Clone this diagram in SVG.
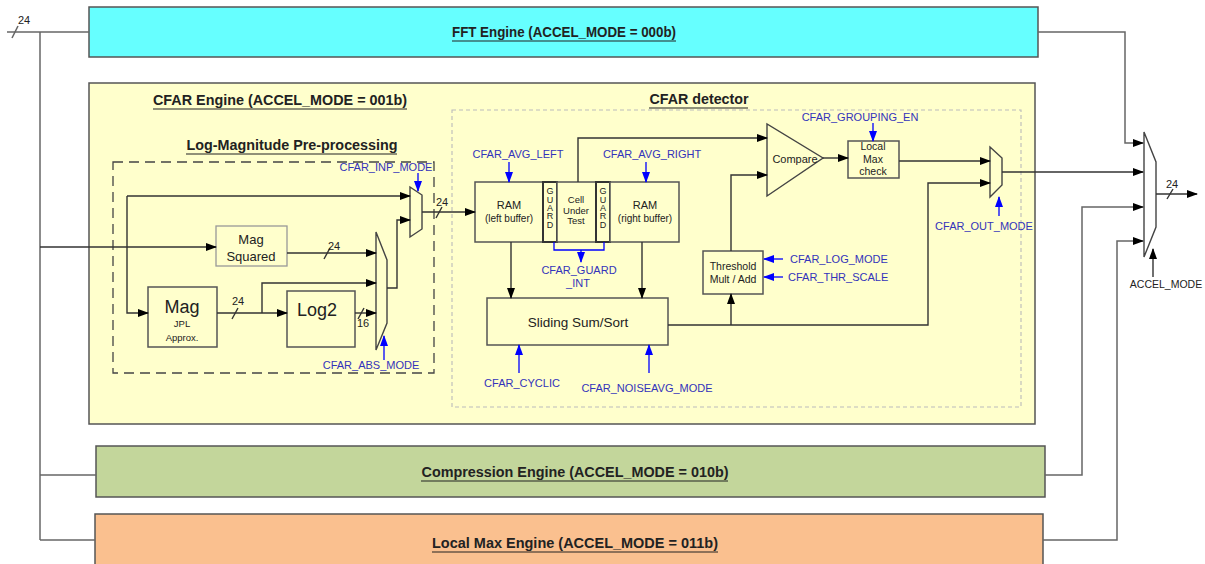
<svg xmlns="http://www.w3.org/2000/svg" width="1205" height="564" viewBox="0 0 1205 564">
<defs>
<marker id="ak" markerUnits="userSpaceOnUse" markerWidth="11" markerHeight="8" refX="10" refY="4" orient="auto"><path d="M0,0 L11,4 L0,8 z" fill="#000"/></marker>
<marker id="ab" markerUnits="userSpaceOnUse" markerWidth="11" markerHeight="8" refX="10" refY="4" orient="auto"><path d="M0,0 L11,4 L0,8 z" fill="#0000ff"/></marker>
<style>
text{font-family:"Liberation Sans",Arial,sans-serif;fill:#222}
.eng{font-size:14px;font-weight:bold;text-anchor:middle}
.ul{stroke:#222;stroke-width:1.2}
.lbl{font-size:11px;fill:#3333bb}
.mid{text-anchor:middle}
.box{stroke:#555;stroke-width:1.5}
.blk{fill:none;stroke:#333;stroke-width:1.4}
.out{fill:none;stroke:#666;stroke-width:1.5}
.blu{fill:none;stroke:#0000ff;stroke-width:1.3}
.arr{marker-end:url(#ak)}
.barr{marker-end:url(#ab)}
.mux{fill:none;stroke:#444;stroke-width:1.4}
.sm{font-size:10.5px}
</style>
</defs>
<rect width="1205" height="564" fill="#fff"/>

<g id="fft"><rect class="box" x="89" y="7" width="949" height="50" fill="#66ffff"/><text class="eng" x="564" y="37" font-size="13" textLength="224" lengthAdjust="spacingAndGlyphs">FFT Engine (ACCEL_MODE = 000b)</text><line class="ul" x1="452" y1="41" x2="676" y2="41"/></g>

<g id="cfar-engine"><rect class="box" x="89" y="83" width="946" height="341" fill="#ffffcc"/><text class="eng" x="280" y="105" textLength="254" lengthAdjust="spacingAndGlyphs">CFAR Engine (ACCEL_MODE = 001b)</text><line class="ul" x1="153" y1="109" x2="407" y2="109"/></g>

<g id="logmag"><rect x="113" y="162" width="321" height="211" fill="none" stroke="#444" stroke-width="1.3" stroke-dasharray="10,6"/><text class="eng" x="292" y="150" textLength="211" lengthAdjust="spacingAndGlyphs">Log-Magnitude Pre-processing</text><line class="ul" x1="186" y1="154" x2="397" y2="154"/></g>

<g id="detector"><rect x="452" y="110" width="569" height="297" fill="none" stroke="#bbb" stroke-width="1.1" stroke-dasharray="4,3"/><text class="eng" x="699" y="104" textLength="99" lengthAdjust="spacingAndGlyphs">CFAR detector</text><line class="ul" x1="649" y1="108" x2="748" y2="108"/></g>

<g id="compression"><rect class="box" x="96" y="446" width="949" height="51" fill="#c3d69b"/><text class="eng" x="575" y="477" textLength="307" lengthAdjust="spacingAndGlyphs">Compression Engine (ACCEL_MODE = 010b)</text><line class="ul" x1="421" y1="481" x2="728" y2="481"/></g>

<g id="localmax-engine"><rect class="box" x="95" y="514" width="948" height="60" fill="#fac08f"/><text class="eng" x="575" y="548" textLength="286" lengthAdjust="spacingAndGlyphs">Local Max Engine (ACCEL_MODE = 011b)</text><line class="ul" x1="432" y1="552" x2="718" y2="552"/></g>

<g id="mag"><rect class="box" x="148" y="287" width="69" height="60" fill="#ffffcc"/><text class="mid" x="182" y="313" font-size="18">Mag</text><text class="mid" x="182" y="327" font-size="9.5">JPL</text><text class="mid" x="182" y="341" font-size="9.5">Approx.</text></g>

<g id="magsq"><rect x="216" y="226" width="71" height="40" fill="#ffffcc" stroke="#999" stroke-width="1.3"/><text class="mid" x="251" y="244" font-size="13">Mag</text><text class="mid" x="251" y="261" font-size="13">Squared</text></g>

<g id="log2"><rect class="box" x="287" y="291" width="68" height="56" fill="#ffffcc"/><text class="mid" x="317" y="316" font-size="18">Log2</text></g>

<g id="mux-abs"><polygon class="mux" points="376,232 387,260 387,323 376,350"/></g>
<g id="mux-inp"><polygon class="mux" points="410,187 422,195 422,229 410,237"/></g>

<g id="ram-left"><rect class="box" x="475" y="182" width="68" height="60" fill="#ffffcc"/><text class="mid" x="509" y="209" font-size="11">RAM</text><text class="mid" x="509" y="222" font-size="10">(left buffer)</text></g>
<g id="guard-left"><rect x="543" y="182" width="14" height="60" fill="#ffffcc" stroke="#333" stroke-width="2"/><g font-size="9"><text x="550" y="194" class="mid">G</text><text x="550" y="203" class="mid">U</text><text x="550" y="211" class="mid">A</text><text x="550" y="219" class="mid">R</text><text x="550" y="228" class="mid">D</text></g></g>
<g id="cut"><rect class="box" x="557" y="182" width="39" height="60" fill="#ffffcc"/><g font-size="9.5"><text class="mid" x="576" y="203">Cell</text><text class="mid" x="576" y="214">Under</text><text class="mid" x="576" y="224">Test</text></g></g>
<g id="guard-right"><rect x="596" y="182" width="14" height="60" fill="#ffffcc" stroke="#333" stroke-width="2"/><g font-size="9"><text x="603" y="194" class="mid">G</text><text x="603" y="203" class="mid">U</text><text x="603" y="211" class="mid">A</text><text x="603" y="219" class="mid">R</text><text x="603" y="228" class="mid">D</text></g></g>
<g id="ram-right"><rect class="box" x="610" y="182" width="69" height="60" fill="#ffffcc"/><text class="mid" x="645" y="209" font-size="11">RAM</text><text class="mid" x="645" y="222" font-size="10">(right buffer)</text></g>

<g id="sliding"><rect class="box" x="487" y="298" width="181" height="47" fill="#ffffcc"/><text class="mid" x="578" y="327" font-size="13.5">Sliding Sum/Sort</text></g>

<g id="threshold"><rect class="box" x="703" y="251" width="60" height="43" fill="#ffffcc"/><text class="mid sm" x="733" y="270">Threshold</text><text class="mid sm" x="733" y="283">Mult / Add</text></g>

<g id="compare"><polygon points="767,124 767,196 823,158" fill="#ffffcc" stroke="#444" stroke-width="1.4"/><text class="mid" x="795" y="163" font-size="11">Compare</text></g>

<g id="localmax-check"><rect class="box" x="848" y="141" width="51" height="37" fill="#ffffcc"/><text class="mid sm" x="873" y="150">Local</text><text class="mid sm" x="873" y="163">Max</text><text class="mid sm" x="873" y="175">check</text></g>

<g id="mux-out"><polygon class="mux" points="990,147 1002,158 1002,185 990,197"/></g>
<g id="mux-accel"><polygon class="mux" points="1144,132 1156,162 1156,227 1144,257"/></g>

<g id="connectors">
<path class="out" d="M7,32 H89"/>
<path class="out" d="M40,32 V540"/>
<path class="out" d="M40,475 H96"/>
<path class="out" d="M40,540 H95"/>
<path class="out" d="M12,38 L18,26"/>
<path class="out arr" d="M1038,32 H1125 V143 H1143"/>
<path class="out arr" d="M1045,475 H1082 V207 H1143"/>
<path class="out arr" d="M1043,540 H1117 V241 H1143"/>
<path class="blk arr" d="M1002,172 H1143"/>
<path class="blk arr" d="M1156,194 H1197"/>
<path class="blk" d="M1167,199 L1173,189"/>
<path class="blk arr" d="M1153,277 V249"/>

<path class="blk arr" d="M40,247 H216"/>
<path class="blk arr" d="M127,196 H410"/>
<path class="blk arr" d="M127,196 V313 H148"/>
<path class="blk arr" d="M217,313 H287"/>
<path class="blk" d="M232,319 L238,308"/>
<path class="blk arr" d="M262,313 V283 H376"/>
<path class="blk arr" d="M287,253 H376"/>
<path class="blk" d="M324,259 L330,248"/>
<path class="blk arr" d="M355,313 H376"/>
<path class="blk" d="M358,319 L364,308"/>
<path class="blk arr" d="M387,288 H397 V220 H410"/>
<path class="blk arr" d="M422,212 H475"/>
<path class="blk" d="M436,218 L442,207"/>

<path class="blk arr" d="M578,182 V138 H767"/>
<path class="blk arr" d="M511,242 V298"/>
<path class="blk arr" d="M642,242 V298"/>
<path class="blk arr" d="M668,325 H928 V183 H990"/>
<path class="blk arr" d="M731,325 V294"/>
<path class="blk arr" d="M731,251 V175 H767"/>
<path class="blk arr" d="M823,158 H848"/>
<path class="blk arr" d="M899,161 H990"/>

<path class="blu barr" d="M418,173 V191"/>
<path class="blu barr" d="M384,360 V336"/>
<path class="blu barr" d="M509,162 V182"/>
<path class="blu barr" d="M646,162 V182"/>
<path class="blu" d="M554,242 V250 H604 V242"/>
<path class="blu barr" d="M581,250 V262"/>
<path class="blu barr" d="M873,123 V141"/>
<path class="blu barr" d="M783,259 H764"/>
<path class="blu barr" d="M783,277 H764"/>
<path class="blu barr" d="M999,216 V197"/>
<path class="blu barr" d="M519,373 V345"/>
<path class="blu barr" d="M649,373 V345"/>
</g>

<g id="labels">
<text x="24" y="24" font-size="11" class="mid">24</text>
<text x="1172" y="188" font-size="11" class="mid">24</text>
<text x="238" y="305" font-size="11" class="mid">24</text>
<text x="334" y="250" font-size="11" class="mid">24</text>
<text x="363" y="327" font-size="11" class="mid">16</text>
<text x="442" y="206" font-size="11" class="mid">24</text>
<text x="1166" y="288" font-size="10.5" class="mid">ACCEL_MODE</text>
<text class="lbl mid" x="386" y="171">CFAR_INP_MODE</text>
<text class="lbl mid" x="371" y="369">CFAR_ABS_MODE</text>
<text class="lbl mid" x="518" y="158">CFAR_AVG_LEFT</text>
<text class="lbl mid" x="652" y="158">CFAR_AVG_RIGHT</text>
<text class="lbl mid" x="579" y="274">CFAR_GUARD</text>
<text class="lbl mid" x="578" y="287">_INT</text>
<text class="lbl mid" x="860" y="121">CFAR_GROUPING_EN</text>
<text class="lbl mid" x="984" y="230">CFAR_OUT_MODE</text>
<text class="lbl" x="790" y="263">CFAR_LOG_MODE</text>
<text class="lbl" x="788" y="281">CFAR_THR_SCALE</text>
<text class="lbl mid" x="522" y="387">CFAR_CYCLIC</text>
<text class="lbl mid" x="647" y="392">CFAR_NOISEAVG_MODE</text>
</g>
</svg>
